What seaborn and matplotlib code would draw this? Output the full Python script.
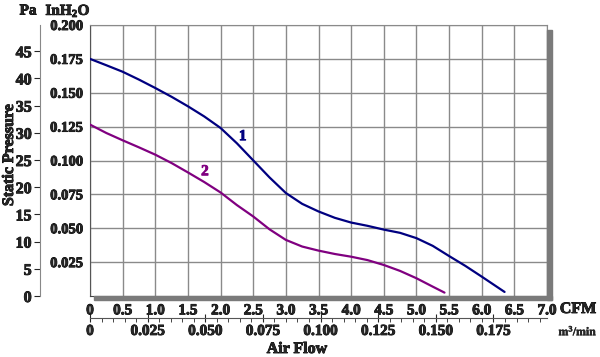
import numpy as np
import pandas as pd
import matplotlib
matplotlib.use("Agg")
import matplotlib.pyplot as plt
import matplotlib.patheffects as pe
from matplotlib.patches import Rectangle
from matplotlib.ticker import MultipleLocator, FixedLocator, FixedFormatter
import seaborn as sns

# ---- data (CFM vs inH2O) ----
cfm1 = [0, 0.25, 0.5, 0.75, 1.0, 1.25, 1.5, 1.75, 2.0, 2.25, 2.5, 2.75, 3.0, 3.25,
        3.5, 3.75, 4.0, 4.25, 4.5, 4.75, 5.0, 5.25, 5.5, 5.75, 6.0, 6.35]
p1 = [0.175, 0.1703, 0.1655, 0.1597, 0.1535, 0.1470, 0.1400, 0.1325, 0.1240,
      0.1127, 0.1001, 0.0875, 0.0760, 0.0680, 0.0624, 0.0577, 0.0542, 0.0518,
      0.0490, 0.0466, 0.0427, 0.0370, 0.0295, 0.0222, 0.0143, 0.003]
cfm2 = [0, 0.25, 0.5, 0.75, 1.0, 1.25, 1.5, 1.75, 2.0, 2.25, 2.5, 2.75, 3.0, 3.25,
        3.5, 3.75, 4.0, 4.25, 4.5, 4.75, 5.0, 5.25, 5.43]
p2 = [0.1265, 0.1203, 0.1149, 0.1097, 0.1043, 0.0981, 0.0912, 0.0841, 0.0764,
      0.0671, 0.0587, 0.0492, 0.0414, 0.0365, 0.0335, 0.0310, 0.0290, 0.0265,
      0.0229, 0.0185, 0.0131, 0.0069, 0.0025]

cfm_ticks = [0, 0.5, 1.0, 1.5, 2.0, 2.5, 3.0, 3.5, 4.0, 4.5, 5.0, 5.5, 6.0, 6.5, 7.0]
cfm_labels = ["0", "0.5", "1.0", "1.5", "2.0", "2.5", "3.0", "3.5", "4.0", "4.5",
              "5.0", "5.5", "6.0", "6.5", "7.0"]
in_ticks = [0.025, 0.05, 0.075, 0.1, 0.125, 0.15, 0.175, 0.2]
in_labels = ["0.025", "0.050", "0.075", "0.100", "0.125", "0.150", "0.175", "0.200"]
pa_ticks = [0, 5, 10, 15, 20, 25, 30, 35, 40, 45]
m3_ticks = [0, 0.025, 0.05, 0.075, 0.1, 0.125, 0.15, 0.175]
m3_labels = ["0", "0.025", "0.050", "0.075", "0.100", "0.125", "0.150", "0.175"]

CFM_TO_M3 = 0.0283168
INH2O_TO_PA = 249.089

df = pd.concat([
    pd.DataFrame({"cfm": cfm1, "inh2o": p1, "curve": "1"}),
    pd.DataFrame({"cfm": cfm2, "inh2o": p2, "curve": "2"}),
])

sns.set_style("white")
plt.rcParams["font.family"] = ["Liberation Serif", "DejaVu Serif"]
plt.rcParams["font.weight"] = "bold"
plt.rcParams["mathtext.fontset"] = "custom"
plt.rcParams["mathtext.rm"] = "Liberation Serif:bold"
plt.rcParams["mathtext.default"] = "rm"

W, H = 600, 357
fig = plt.figure(figsize=(6, 3.57), dpi=100)
L, R, T, B = 90, 547, 25, 296
ax = fig.add_axes([L / W, 1 - B / H, (R - L) / W, (B - T) / H])

colors = {"1": "#000080", "2": "#800080"}
sns.lineplot(data=df, x="cfm", y="inh2o", hue="curve", palette=colors,
             legend=False, ax=ax, lw=1.6, sort=False, zorder=5)

ax.set_xlim(0, 7)
ax.set_ylim(0, 0.2)
ax.set_xlabel("")
ax.set_ylabel("")
ax.set_xticks(cfm_ticks)
ax.set_xticklabels(cfm_labels)
ax.set_yticks(in_ticks)
ax.set_yticklabels(in_labels)
ax.xaxis.set_minor_locator(MultipleLocator(0.1))
ax.yaxis.set_minor_locator(MultipleLocator(0.005))
ax.grid(True, which="major", color="#8a8a8a", lw=1)
ax.tick_params(axis="x", which="major", length=0, pad=6, labelsize=11)
ax.tick_params(axis="x", which="minor", direction="in", length=3, color="#333", width=0.8)
ax.tick_params(axis="y", which="major", direction="out", length=3, pad=2, labelsize=10.5)
ax.tick_params(axis="y", which="minor", direction="in", length=3, color="#333", width=0.8)
for s in ["top", "right"]:
    ax.spines[s].set_color("#8a8a8a")
ax.spines["left"].set_color("#555")
ax.spines["bottom"].set_color("#444")

stroke = [pe.withStroke(linewidth=0.6, foreground="black")]
thin_stroke = [pe.withStroke(linewidth=0.25, foreground="black")]

ax.text(2.34, 0.1176, "1", color=colors["1"], fontsize=11, fontweight="bold",
        ha="center", va="center",
        path_effects=[pe.withStroke(linewidth=0.6, foreground=colors["1"])])
ax.text(1.76, 0.0917, "2", color=colors["2"], fontsize=11, fontweight="bold",
        ha="center", va="center",
        path_effects=[pe.withStroke(linewidth=0.6, foreground=colors["2"])])

# secondary axes
secx = ax.secondary_xaxis(-22 / (B - T), functions=(lambda c: c * CFM_TO_M3,
                                                     lambda m: m / CFM_TO_M3))
secx.xaxis.set_major_locator(FixedLocator(m3_ticks))
secx.xaxis.set_major_formatter(FixedFormatter(m3_labels))
secx.xaxis.set_minor_locator(MultipleLocator(0.005))
secx.tick_params(which="major", direction="inout", length=6, pad=2, labelsize=11)
secx.tick_params(which="minor", direction="out", length=3)
secx.spines["bottom"].set_color("#555")

secy = ax.secondary_yaxis(-50 / (R - L), functions=(lambda i: i * INH2O_TO_PA,
                                                     lambda p: p / INH2O_TO_PA))
secy.yaxis.set_major_locator(FixedLocator(pa_ticks))
secy.tick_params(which="major", direction="out", length=4, pad=2, labelsize=11.5)
secy.spines["left"].set_color("#888")

for a in (ax, secx, secy):
    for lab in a.get_xticklabels() + a.get_yticklabels():
        lab.set_fontweight("bold")
        lab.set_path_effects(stroke)

# shadow
fig.patches.append(Rectangle((R / W, 1 - 300 / H), 5 / W, (300 - 30) / H,
                             transform=fig.transFigure, color="#7a7a7a", zorder=0))
fig.patches.append(Rectangle((94 / W, 1 - 300 / H), (552 - 94) / W, 4 / H,
                             transform=fig.transFigure, color="#7a7a7a", zorder=0))

def ft(x, y, s, pe_list=stroke, **kw):
    fig.text(x / W, 1 - y / H, s, fontweight="bold", path_effects=pe_list, **kw)

ft(28, 11, "Pa", fontsize=11, ha="center", va="center")
ft(68, 11, "InH$_2$O", fontsize=11, ha="center", va="center")
ft(578, 309, "CFM", fontsize=11.5, ha="center", va="center")
ft(578, 331, "m$^3$/min", pe_list=thin_stroke, fontsize=8.5, ha="center", va="center")
ft(297, 349, "Air Flow", fontsize=11.5, ha="center", va="center")
ft(9, 155, "Static Pressure", fontsize=11.5, ha="center", va="center", rotation=90)

fig.savefig("out.png", dpi=100)
